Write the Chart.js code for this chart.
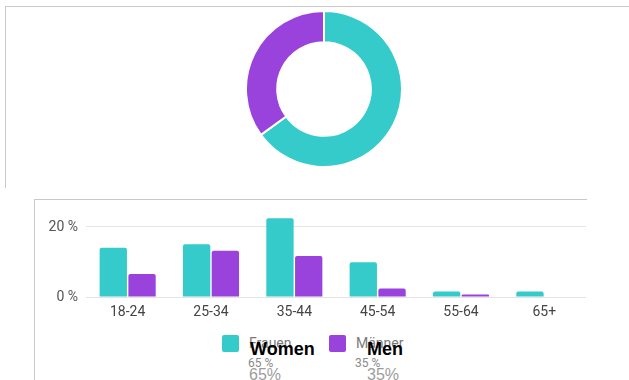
<!DOCTYPE html>
<html>
<head>
<meta charset="utf-8">
<script src="https://cdn.jsdelivr.net/npm/chart.js"></script>
<style>
  html, body { margin: 0; padding: 0; background: #fff; }
  body { width: 629px; height: 380px; position: relative; overflow: hidden; font-family: Roboto, "Liberation Sans", sans-serif; }
  .panel { position: absolute; border-top: 1px solid #c9c9c9; border-left: 1px solid #c9c9c9; }
  #donutBox { position: absolute; left: 245px; top: 10px; width: 158px; height: 158px; }
  #barBox { position: absolute; left: 0; top: 199px; width: 629px; height: 130px; }
  .swatch { position: absolute; width: 17px; height: 17px; border-radius: 2px; }
  .name { position: absolute; font-size: 14px; line-height: 16px; color: #7a7a7a; white-space: nowrap; }
  .nameEn { position: absolute; font-family: "Liberation Sans", Arial, sans-serif; font-weight: bold; font-size: 18px; line-height: 18px; color: #000; white-space: nowrap; }
  .pct { position: absolute; font-size: 12px; line-height: 12px; color: #8a8a8a; white-space: nowrap; }
  .pctBig { position: absolute; font-family: "Liberation Sans", Arial, sans-serif; font-size: 16px; line-height: 16px; color: #9c9c9c; white-space: nowrap; }
</style>
</head>
<body>
<div class="panel" style="left:5px; top:6px; width:624px; height:181px;"></div>
<div class="panel" style="left:34px; top:199px; width:552px; height:181px;"></div>
<div id="donutBox"><canvas id="donut"></canvas></div>
<div id="barBox"><canvas id="bars"></canvas></div>
<div id="legend"></div>

<script>
"use strict";

const ageGroups = ["18-24", "25-34", "35-44", "45-54", "55-64", "65+"];
const womenShare = [14.1, 15.1, 22.5, 9.9, 1.6, 1.6];
const menShare = [6.6, 13.2, 11.7, 2.4, 0.7, 0];
const seriesNames = ["Frauen", "Männer"];
const seriesNamesEn = ["Women", "Men"];
const totals = [65, 35];
const yTicks = [0, 20];

const TEAL = "#35cbcb";
const PURPLE = "#9a42dc";
const FONT = "Roboto";

// donut with the overall split
new Chart(document.getElementById("donut"), {
	type: "doughnut",
	data: {
		labels: seriesNames,
		datasets: [{
			data: totals,
			backgroundColor: [TEAL, PURPLE],
			borderColor: "#fff",
			borderWidth: 2
		}]
	},
	options: {
		responsive: true,
		maintainAspectRatio: false,
		animation: false,
		cutout: "60%",
		events: [],
		plugins: { legend: { display: false }, tooltip: { enabled: false } }
	}
});

// grouped bars per age group
new Chart(document.getElementById("bars"), {
	type: "bar",
	data: {
		labels: ageGroups,
		datasets: [
			{ label: seriesNames[0], data: womenShare, backgroundColor: TEAL },
			{ label: seriesNames[1], data: menShare, backgroundColor: PURPLE }
		]
	},
	options: {
		responsive: true,
		maintainAspectRatio: false,
		animation: false,
		events: [],
		categoryPercentage: 0.69,
		barPercentage: 0.95,
		borderRadius: 2,
		borderSkipped: "bottom",
		layout: { padding: { left: 0, right: 43, top: 10.5, bottom: 0 } },
		plugins: { legend: { display: false }, tooltip: { enabled: false } },
		scales: {
			x: {
				afterFit: ax => { ax.height = 32; },
				grid: { display: false, drawTicks: false },
				border: { display: false },
				ticks: { font: { family: FONT, size: 14 }, color: "#444", padding: 7 }
			},
			y: {
				min: 0,
				max: 25,
				afterBuildTicks: ax => { ax.ticks = yTicks.map(v => ({ value: v })); },
				afterFit: ax => {
					ax.width = 86;
					ax.paddingTop = 0;
					ax.paddingBottom = 0;
				},
				grid: { color: "#e4e4e4", drawTicks: false },
				border: { display: false },
				ticks: {
					font: { family: FONT, size: 14 },
					color: "#555",
					padding: 8,
					callback: v => v + " %"
				}
			}
		}
	}
});

// legend below the bars
const legend = document.getElementById("legend");
const legendX = [222, 329];
[TEAL, PURPLE].forEach((color, i) => {
	const x = legendX[i];
	legend.insertAdjacentHTML("beforeend",
		`<div class="swatch" style="left:${x}px; top:335px; background:${color};"></div>` +
		`<div class="name" style="left:${x + 27}px; top:335px;">${seriesNames[i]}</div>` +
		`<div class="nameEn" style="left:${x + 28 + i * 10}px; top:340px;">${seriesNamesEn[i]}</div>` +
		`<div class="pct" style="left:${x + 26}px; top:357px;">${totals[i]} %</div>` +
		`<div class="pctBig" style="left:${x + 27 + i * 11}px; top:367px;">${totals[i]}%</div>`
	);
});
</script>
</body>
</html>
